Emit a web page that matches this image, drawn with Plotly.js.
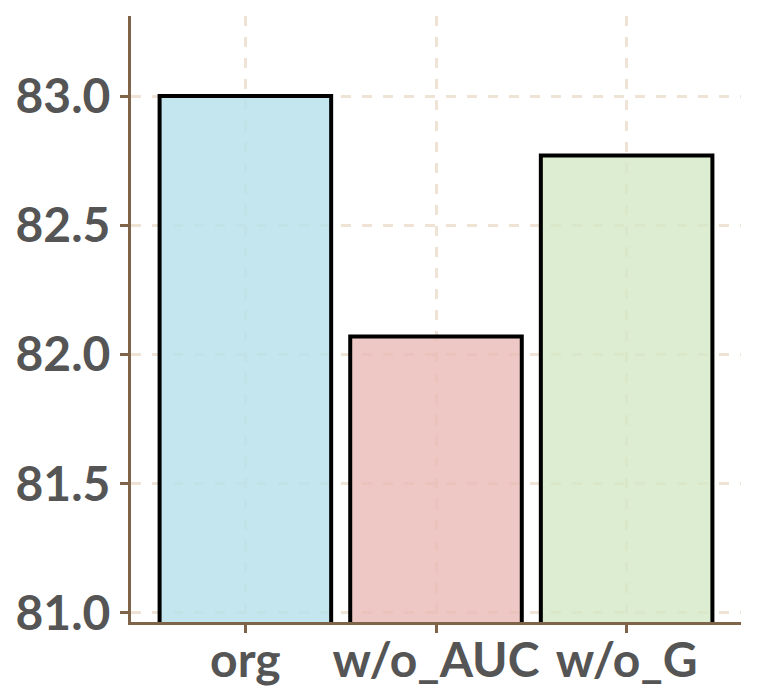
<!DOCTYPE html>
<html>
<head>
<meta charset="utf-8">
<script src="https://cdn.plot.ly/plotly-3.0.1.min.js"></script>
<style>html,body{margin:0;padding:0;background:#fff;}#chart{width:759px;height:700px;}</style>
</head>
<body>
<div id="chart"></div>
<script>
const categories = ["org", "w/o_AUC", "w/o_G"];
const values = [83.0, 82.07, 82.77];
const barColors = ["rgba(181,225,235,0.8)", "rgba(232,186,182,0.8)", "rgba(213,233,198,0.8)"];
const yTickVals = [81.0, 81.5, 82.0, 82.5, 83.0];
const yTickText = ["81.0", "81.5", "82.0", "82.5", "83.0"];

const trace = {
  type: "bar",
  x: categories,
  y: values,
  width: 0.9,
  marker: { color: barColors, line: { color: "#000000", width: 4 } },
  hoverinfo: "skip"
};

const axisColor = "#7F6449";
const gridColor = "#EFE3D6";
const fontSpec = { family: "Lato, Liberation Sans, Arial, sans-serif", size: 48, color: "#555555", weight: "bold" };

const layout = {
  width: 759, height: 700,
  margin: { l: 131, r: 18, t: 16, b: 78 },
  paper_bgcolor: "#ffffff",
  plot_bgcolor: "rgba(0,0,0,0)",
  showlegend: false,
  bargap: 0.1,
  xaxis: {
    type: "category",
    range: [-0.6, 2.6],
    showline: true, linecolor: axisColor, linewidth: 3,
    ticks: "outside", ticklen: 8, tickwidth: 3, tickcolor: axisColor,
    showgrid: true, gridcolor: gridColor, gridwidth: 3, griddash: "10px,11px",
    tickfont: fontSpec,
    ticklabelstandoff: -14,
    zeroline: false
  },
  yaxis: {
    range: [80.965, 83.31],
    tickvals: yTickVals, ticktext: yTickText,
    showline: true, linecolor: axisColor, linewidth: 3,
    ticks: "outside", ticklen: 8, tickwidth: 3, tickcolor: axisColor,
    showgrid: true, gridcolor: gridColor, gridwidth: 3, griddash: "10px,11px",
    tickfont: fontSpec,
    zeroline: false
  }
};

Plotly.newPlot("chart", [trace], layout, { displayModeBar: false, staticPlot: true });
</script>
</body>
</html>
